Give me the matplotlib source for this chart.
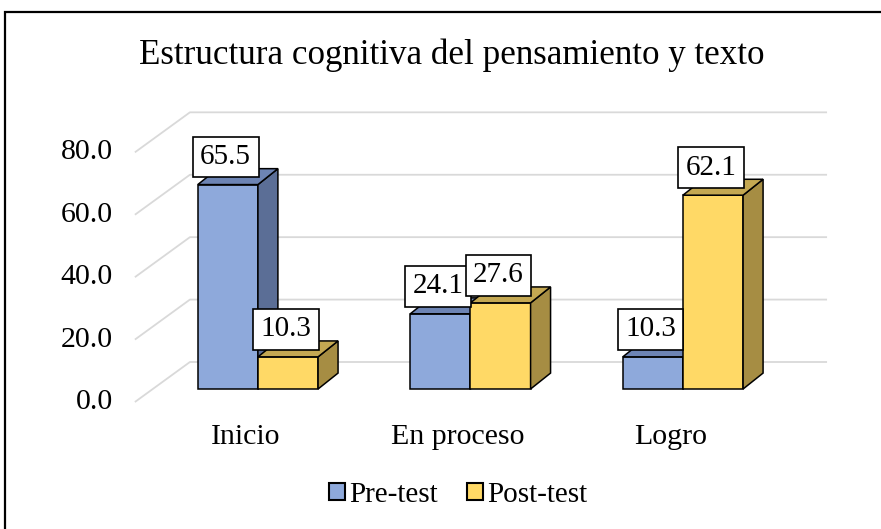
"""
Estructura cognitiva - pseudo 3D clustered bars (Excel look)
"""
import matplotlib; matplotlib.use('Agg')
import matplotlib.pyplot as plt
from matplotlib.patches import Polygon, Rectangle, Patch

plt.rcParams.update({'font.family': ['Liberation Serif', 'DejaVu Serif'], 'font.size': 21})

categories = ['Inicio', 'En proceso', 'Logro']
pre = [65.5, 24.1, 10.3]
post = [10.3, 27.6, 62.1]
series_names = ['Pre-test', 'Post-test']
yticks = [0, 20, 40, 60, 80]

# face colours: front, side, top
pre_cols = ('#8EA9DB', '#5B6E96', '#6D84B4')
post_cols = ('#FFD966', '#A68D43', '#C4A852')

W, H = 881, 529
fig = plt.figure(figsize=(W/100, H/100), dpi=100)
fig.patch.set_facecolor('white')

# axes placed so that 1 category = 212.5 px, 1 unit = 3.12 px
ax = fig.add_axes([130/W, 1 - 410/H, 710/W, 310/H])
ax.set_xlim(-0.602, 2.739)
ax.set_ylim(-6.73, 92.6)
ax.axis('off')

bw = 0.283            # bar width
ddx, ddy = 0.094, 5.1  # bar depth offset
# wall / floor geometry
fx, fy = -0.579, -4.17   # front edge of floor (left)
bx, by = -0.32, 8.65     # back wall left
rx = 2.678               # back wall right

for g in yticks:
    ax.plot([fx, bx, rx], [g + fy, g + by, g + by], color='#D9D9D9', lw=1.3,
            zorder=1, solid_capstyle='butt')
    ax.text(-0.683, g + fy, f'{g:.1f}', ha='right', va='center',
            fontsize=21.5, clip_on=False)

def bar3d(x, v, cols):
    x0 = x - bw/2
    x1 = x + bw/2
    ax.bar(x, v, width=bw, color=cols[0], edgecolor='black', lw=1.1, zorder=3)
    side = [(x1, 0), (x1 + ddx, ddy), (x1 + ddx, v + ddy), (x1, v)]
    top = [(x0, v), (x1, v), (x1 + ddx, v + ddy), (x0 + ddx, v + ddy)]
    ax.add_patch(Polygon(side, closed=True, facecolor=cols[1], edgecolor='black',
                         lw=1.1, zorder=3))
    ax.add_patch(Polygon(top, closed=True, facecolor=cols[2], edgecolor='black',
                         lw=1.1, zorder=3))

for i in range(len(categories)):
    bar3d(i - bw/2, pre[i], pre_cols)
    bar3d(i + bw/2, post[i], post_cols)

# value boxes drawn after all bars
for i in range(len(categories)):
    for xo, v in ((i - bw/2, pre[i]), (i + bw/2, post[i])):
        ax.text(xo - 0.01, v + 8.8, f'{v:.1f}', ha='center', va='center',
                fontsize=21, zorder=6,
                bbox=dict(boxstyle='square,pad=0.25', facecolor='white',
                          edgecolor='black', lw=1.2))

for i, c in enumerate(categories):
    ax.text(i - 0.06, -15.5, c, ha='center', va='center', fontsize=21.5,
            clip_on=False)

fig.text(452/W, 1 - 55/H, 'Estructura cognitiva del pensamiento y texto',
         ha='center', va='center', fontsize=25.2)

handles = [Patch(facecolor=pre_cols[0], edgecolor='black', lw=1.5),
           Patch(facecolor=post_cols[0], edgecolor='black', lw=1.5)]
fig.legend(handles, series_names, loc='center', bbox_to_anchor=(458/W, 1 - 495/H),
           ncol=2, frameon=False, fontsize=21, handlelength=0.55, handleheight=0.55,
           handletextpad=0.15, columnspacing=1.0)

# outer chart frame (cut by right and bottom edge)
fig.patches.append(Rectangle((4.5/W, -0.2), 1.2, 1.2 - 12.5/H,
                             transform=fig.transFigure, fill=False,
                             edgecolor='black', lw=1.6))

fig.savefig('out.png', dpi=100)
